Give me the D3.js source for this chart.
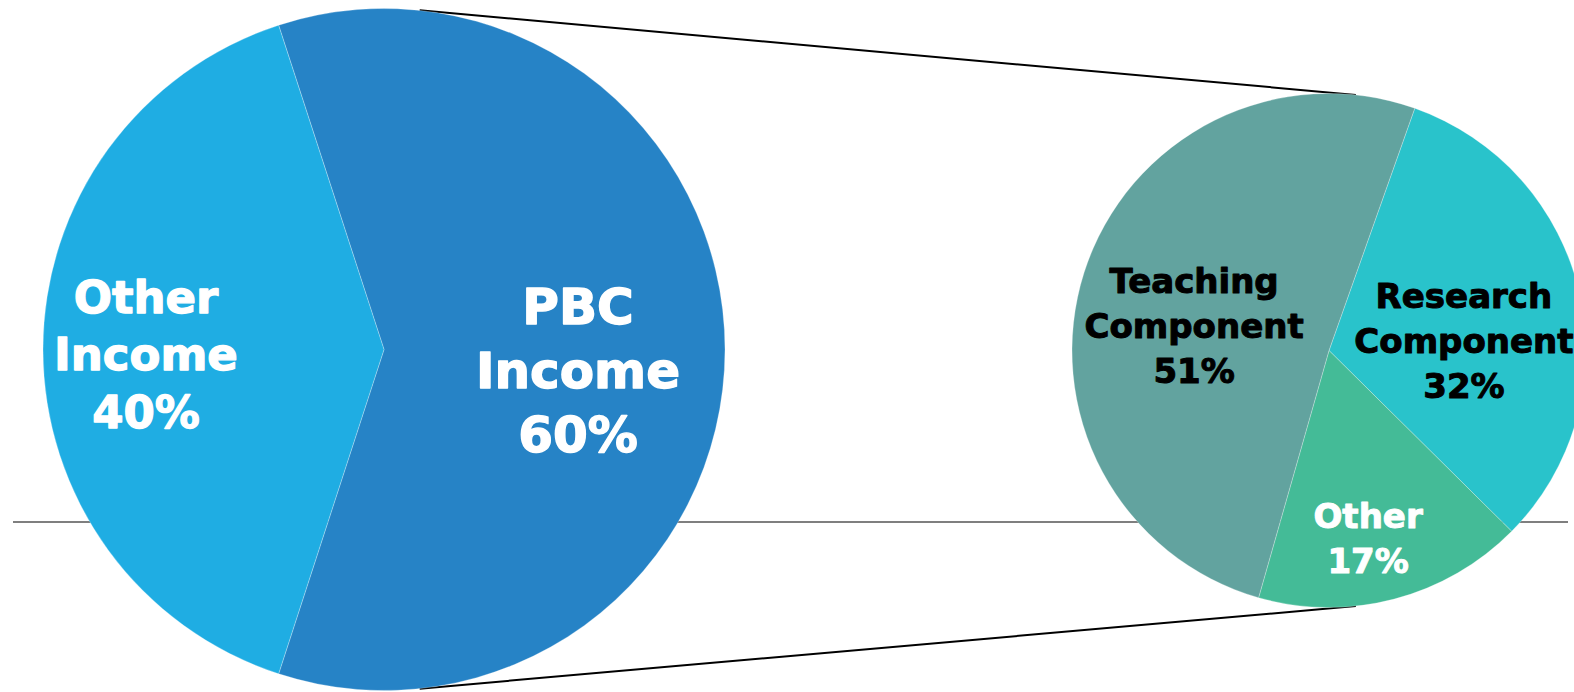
<!DOCTYPE html>
<html>
<head>
<meta charset="utf-8">
<script src="https://cdn.jsdelivr.net/npm/d3@7"></script>
<style>
    html, body { margin: 0; padding: 0; background: #fff; overflow: hidden; }
    svg text { font-family: "DejaVu Sans", Verdana, sans-serif; font-weight: bold; }
</style>
</head>
<body>
<div id="chart"></div>
<script>
// main pie
var mainLabels = ["PBC Income", "Other Income"];
var mainValues = [60, 40];
// breakdown of PBC income
var subLabels  = ["Research Component", "Other", "Teaching Component"];
var subValues  = [32, 17, 51];

var W = 1574, H = 692;

var svg = d3.select("#chart").append("svg")
    .attr("width", W)
    .attr("height", H);

var big   = { cx: 384,  cy: 349.5, r: 341 };
var small = { cx: 1329, cy: 350.5, r: 257 };

var mainColors = { "PBC Income": "#2683c6", "Other Income": "#1fade3" };
var subColors  = { "Research Component": "#29c3cb", "Other": "#44bb97", "Teaching Component": "#62a39f" };
var textColors = { "Teaching Component": "#000", "Research Component": "#000" };

// label centre as fraction of radius, relative to pie centre
var labelAt = {
    "PBC Income":         [0.569, 0.059],
    "Other Income":       [-0.698, 0.012],
    "Research Component": [0.525, -0.039],
    "Other":              [0.152, 0.731],
    "Teaching Component": [-0.525, -0.097]
};
var fontFor = {
    "PBC Income":   { size: 50, lh: 64, sw: 1.4 },
    "Other Income": { size: 45, lh: 57.5, sw: 1.3 }
};
var subFont = { size: 34, lh: 45, sw: 1 };

// baseline rule (behind pies)
svg.append("line")
    .attr("x1", 13).attr("x2", 1568)
    .attr("y1", 522).attr("y2", 522)
    .attr("stroke", "#7f7f7f")
    .attr("stroke-width", 1.8);

// connector lines
var CONN = 6 * Math.PI / 180;
function onCircle(p, a) { return [p.cx + p.r * Math.sin(a), p.cy - p.r * Math.cos(a)]; }
[[CONN, CONN], [Math.PI - CONN, Math.PI - CONN]].forEach(function (pair) {
    var a = onCircle(big, pair[0]), b = onCircle(small, pair[1]);
    svg.append("line")
        .attr("x1", a[0]).attr("y1", a[1])
        .attr("x2", b[0]).attr("y2", b[1])
        .attr("stroke", "#000")
        .attr("stroke-width", 2);
});

function drawPie(p, labels, values, colors, startAngle, fontOf) {
    var data = labels.map(function (l, i) { return { label: l, value: values[i] }; });
    var total = d3.sum(values);
    var pie = d3.pie().sort(null).value(function (d) { return d.value; })
        .startAngle(startAngle).endAngle(startAngle + 2 * Math.PI);
    var arc = d3.arc().innerRadius(0).outerRadius(p.r);

    var g = svg.append("g").attr("transform", "translate(" + p.cx + "," + p.cy + ")");

    g.selectAll("path").data(pie(data)).enter().append("path")
        .attr("d", arc)
        .attr("fill", function (d) { return colors[d.data.label]; })
        .attr("stroke", "rgba(255,255,255,0.45)")
        .attr("stroke-width", 0.6);

    g.selectAll("text.lbl").data(pie(data)).enter().append("text")
        .attr("class", "lbl")
        .attr("text-anchor", "middle")
        .attr("fill", function (d) { return textColors[d.data.label] || "#fff"; })
        .attr("stroke", function (d) { return textColors[d.data.label] || "#fff"; })
        .each(function (d) {
            var f = fontOf(d.data.label);
            var lines = d.data.label.split(" ");
            lines.push(Math.round(d.data.value / total * 100) + "%");
            var pos = labelAt[d.data.label];
            var x = pos[0] * p.r, y = pos[1] * p.r;
            var y0 = y - (lines.length - 1) * f.lh / 2 + f.size * 0.73 / 2;
            var t = d3.select(this)
                .style("font-size", f.size + "px")
                .attr("stroke-width", f.sw)
                .attr("stroke-linejoin", "round");
            lines.forEach(function (s, i) {
                t.append("tspan").attr("x", x).attr("y", y0 + i * f.lh).text(s);
            });
        });
}

var mainShare = mainValues[0] / d3.sum(mainValues);
drawPie(big, mainLabels, mainValues, mainColors, Math.PI / 2 - Math.PI * mainShare,
    function (l) { return fontFor[l]; });
drawPie(small, subLabels, subValues, subColors, 19.5 * Math.PI / 180,
    function () { return subFont; });
</script>
</body>
</html>
